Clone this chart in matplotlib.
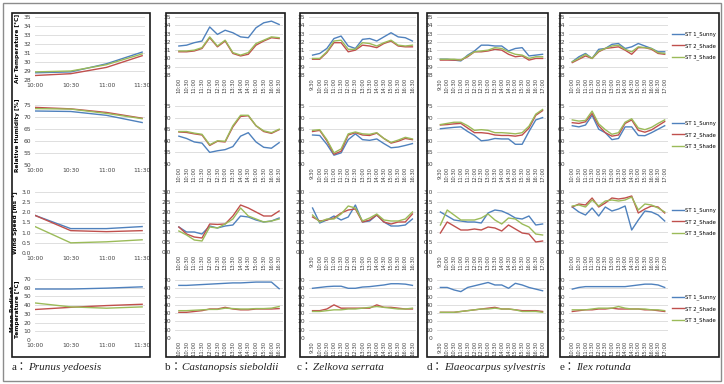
import matplotlib
matplotlib.use('Agg')
import matplotlib.pyplot as plt
from matplotlib.patches import Rectangle

# time axes for each site
times_a = ['10:00', '10:30', '11:00', '11:30']
times_b = ['10:00', '10:30', '11:00', '11:30', '12:00', '12:30', '13:00', '13:30',
           '14:00', '14:30', '15:00', '15:30', '16:00', '16:30']
times_c = ['9:30', '10:00', '10:30', '11:00', '11:30', '12:00', '12:30', '13:00',
           '13:30', '14:00', '14:30', '15:00', '15:30', '16:00', '16:30']
times_d = ['9:30', '10:00', '10:30', '11:00', '11:30', '12:00', '12:30', '13:00',
           '13:30', '14:00', '14:30', '15:00', '15:30', '16:00', '16:30', '17:00']
times_e = ['10:00', '10:30', '11:00', '11:30', '12:00', '12:30', '13:00', '13:30',
           '14:00', '14:30', '15:00', '15:30', '16:00', '16:30', '17:00']

series_names = ['ST 1_Sunny', 'ST 2_Shade', 'ST 3_Shade']
captions = [('a：', 'Prunus yedoesis'), ('b：', 'Castanopsis sieboldii'),
            ('c：', 'Zelkova serrata'), ('d：', 'Elaeocarpus sylvestris'),
            ('e：', 'Ilex rotunda')]

# [ST1 sunny, ST2 shade, ST3 shade] per site and variable
air_a = [[28.8, 28.9, 29.8, 31.1],
         [28.5, 28.7, 29.4, 30.7],
         [28.9, 29.0, 29.7, 30.9]]
rh_a = [[72.5, 72.3, 70.7, 67.7],
        [74.0, 73.4, 71.9, 69.5],
        [73.5, 73.3, 71.5, 69.3]]
ws_a = [[1.85, 1.2, 1.2, 1.3],
        [1.85, 1.1, 1.05, 1.1],
        [1.3, 0.5, 0.55, 0.65]]
mrt_a = [[58.5, 58.5, 59.5, 61.0],
         [35.0, 37.5, 39.5, 41.0],
         [42.5, 38.0, 36.5, 38.0]]

air_b = [[31.5, 31.6, 31.9, 32.1, 33.8, 32.9, 33.4, 33.1, 32.6, 32.5, 33.7, 34.3, 34.5, 34.1],
         [30.8, 30.8, 30.9, 31.2, 32.5, 31.4, 32.1, 30.6, 30.3, 30.5, 31.6, 32.1, 32.5, 32.4],
         [30.9, 30.9, 31.0, 31.3, 32.6, 31.5, 32.2, 30.7, 30.4, 30.7, 31.8, 32.2, 32.6, 32.5]]
rh_b = [[62.0, 61.0, 59.5, 59.0, 55.0, 55.7, 56.2, 57.5, 62.0, 63.5, 59.5, 57.2, 56.8, 59.2],
        [63.8, 63.6, 63.0, 62.5, 58.0, 59.8, 59.5, 66.0, 70.5, 70.8, 66.5, 64.0, 63.2, 64.8],
        [64.0, 64.0, 63.3, 62.8, 58.3, 60.0, 59.8, 66.5, 71.0, 71.0, 66.5, 64.3, 63.5, 65.0]]
ws_b = [[1.25, 1.0, 1.0, 0.9, 1.3, 1.2, 1.3, 1.35, 1.8, 1.75, 1.6, 1.5, 1.55, 1.7],
        [1.25, 0.9, 0.75, 0.7, 1.4, 1.38, 1.4, 1.8, 2.35, 2.2, 2.0, 1.8, 1.8, 2.05],
        [1.05, 0.85, 0.6, 0.55, 1.25, 1.2, 1.4, 1.65, 2.2, 1.8, 1.65, 1.5, 1.55, 1.65]]
mrt_b = [[63.5, 63.5, 64.0, 64.5, 65.0, 65.5, 66.0, 66.5, 66.5, 67.0, 67.5, 67.5, 67.5, 59.5],
         [31.0, 31.0, 32.0, 33.0, 35.0, 35.0, 37.0, 35.0, 34.0, 34.0, 35.0, 35.0, 35.0, 35.5],
         [33.0, 33.0, 33.5, 34.0, 34.5, 34.5, 36.0, 35.5, 35.0, 35.0, 35.5, 35.5, 36.0, 38.0]]

air_c = [[30.4, 30.6, 31.2, 32.4, 32.7, 31.5, 31.2, 32.3, 32.4, 32.1, 32.6, 33.1, 32.6, 32.5, 32.1],
         [29.9, 29.9, 30.7, 31.9, 31.9, 30.8, 31.0, 31.6, 31.5, 31.3, 31.8, 32.1, 31.5, 31.4, 31.4],
         [30.0, 30.0, 30.8, 32.1, 32.2, 31.1, 31.1, 31.9, 31.8, 31.5, 31.9, 32.2, 31.6, 31.5, 31.6]]
rh_c = [[62.5, 62.3, 58.5, 53.8, 54.8, 60.5, 63.0, 60.5, 60.2, 60.8, 58.8, 57.0, 57.3, 58.0, 58.8],
        [64.0, 64.5, 60.0, 54.2, 55.5, 62.5, 63.5, 62.5, 62.3, 63.3, 61.0, 59.0, 59.8, 61.0, 60.5],
        [64.5, 64.8, 60.5, 54.8, 56.5, 63.0, 63.8, 63.0, 62.8, 63.5, 61.0, 59.3, 60.3, 61.5, 60.8]]
ws_c = [[2.2, 1.45, 1.6, 1.8, 1.6, 1.75, 2.35, 1.5, 1.55, 1.85, 1.5, 1.3, 1.3, 1.35, 1.65],
        [1.75, 1.55, 1.6, 1.7, 1.95, 2.1, 2.15, 1.5, 1.6, 1.85, 1.5, 1.4, 1.5, 1.5, 1.9],
        [1.85, 1.5, 1.65, 1.65, 1.9, 2.3, 2.2, 1.55, 1.7, 1.9, 1.6, 1.55, 1.55, 1.65, 2.0]]
mrt_c = [[60.0, 61.0, 62.0, 62.5, 62.5, 60.0, 60.0, 61.5, 62.0, 63.0, 64.0, 65.5, 65.5, 65.0, 63.5],
         [33.0, 33.0, 35.0, 40.0, 36.0, 36.0, 36.0, 36.0, 36.0, 40.0, 37.0, 37.0, 36.0, 35.0, 35.0],
         [32.0, 32.0, 33.0, 34.0, 34.0, 35.0, 35.0, 36.0, 37.0, 38.0, 37.0, 36.0, 35.0, 35.0, 36.0]]

air_d = [[29.9, 29.9, 29.8, 29.7, 30.4, 30.9, 31.6, 31.6, 31.5, 31.5, 30.9, 31.2, 31.3, 30.3, 30.4, 30.5],
         [29.8, 29.8, 29.8, 29.8, 30.2, 30.8, 30.8, 30.9, 31.1, 31.0, 30.5, 30.2, 30.3, 29.8, 30.0, 30.0],
         [29.9, 29.9, 29.9, 29.8, 30.3, 30.8, 30.9, 31.0, 31.3, 31.2, 30.8, 30.5, 30.4, 30.0, 30.2, 30.2]]
rh_d = [[65.2, 65.5, 65.8, 66.0, 64.0, 62.3, 60.0, 60.3, 61.0, 60.8, 60.8, 58.5, 58.5, 64.0, 69.0, 70.0],
        [66.8, 67.0, 67.3, 67.5, 65.5, 63.5, 63.5, 63.2, 62.5, 62.3, 62.3, 62.0, 62.5, 65.5, 71.0, 73.0],
        [67.0, 67.5, 68.0, 68.0, 66.5, 64.5, 64.8, 64.5, 63.5, 63.5, 63.3, 63.0, 63.5, 66.3, 71.5, 73.5]]
ws_d = [[2.0, 1.8, 1.6, 1.55, 1.5, 1.5, 1.45, 1.95, 2.1, 2.05, 1.9, 1.7, 1.65, 1.8, 1.35, 1.4],
        [0.95, 1.5, 1.3, 1.1, 1.1, 1.15, 1.1, 1.25, 1.2, 1.05, 1.35, 1.15, 0.95, 0.9, 0.5, 0.55],
        [1.35, 2.1, 1.85, 1.6, 1.6, 1.6, 1.7, 1.9, 1.6, 1.4, 1.7, 1.65, 1.4, 1.25, 0.9, 0.85]]
mrt_d = [[61, 61, 58, 56, 61, 63, 65, 67, 64, 64, 60, 66, 64, 61, 59, 57],
         [31, 31, 31, 32, 33, 34, 35, 36, 37, 35, 35, 34, 33, 33, 33, 32],
         [31, 31, 31, 32, 33, 34, 35, 35, 36, 35, 35, 34, 32, 32, 32, 31]]

air_e = [[29.6, 30.2, 30.6, 30.0, 31.1, 31.2, 31.7, 31.8, 31.2, 31.4, 31.8, 31.5, 31.2, 30.8, 30.8],
         [29.5, 29.9, 30.3, 30.0, 30.8, 31.2, 31.3, 31.4, 31.0, 30.5, 31.3, 31.3, 31.1, 30.6, 30.5],
         [29.6, 30.0, 30.5, 30.0, 30.9, 31.2, 31.5, 31.6, 31.1, 30.8, 31.4, 31.3, 31.2, 30.7, 30.6]]
rh_e = [[66.5, 66.0, 66.8, 71.0, 65.0, 63.5, 60.5, 61.0, 66.0, 66.0, 62.3, 62.2, 63.5, 65.0, 66.5],
        [67.8, 67.5, 68.2, 71.8, 66.5, 63.5, 62.0, 62.5, 67.5, 69.0, 64.5, 63.7, 64.7, 66.5, 68.3],
        [69.0, 68.5, 68.8, 72.8, 67.3, 64.8, 62.8, 63.5, 68.0, 69.5, 65.5, 64.8, 65.8, 67.5, 69.0]]
ws_e = [[2.25, 2.0, 1.85, 2.2, 1.8, 2.25, 2.05, 2.15, 2.3, 1.1, 1.6, 2.05, 2.0, 1.85, 1.55],
        [2.25, 2.4, 2.35, 2.7, 2.25, 2.45, 2.7, 2.65, 2.7, 2.8, 1.95, 2.15, 2.3, 2.25, 1.95],
        [2.3, 2.35, 2.25, 2.6, 2.3, 2.55, 2.6, 2.55, 2.6, 2.75, 2.1, 2.4, 2.35, 2.2, 2.0]]
mrt_e = [[59, 61, 62, 62, 62, 62, 62, 62, 62, 63, 64, 65, 65, 64, 61],
         [32, 33, 34, 34, 35, 35, 36, 35, 35, 35, 35, 34, 34, 33, 32],
         [34, 34, 34, 35, 36, 36, 36, 38, 36, 35, 35, 35, 34, 34, 33]]

y_labels = ['Air Temperature [°C]', 'Relative Humidity [%]', 'Wind Speed [ms⁻¹]',
            'Mean Radiant\nTemperature [°C]']
y_ticks = [[28, 29, 30, 31, 32, 33, 34, 35],
           [50, 55, 60, 65, 70, 75],
           [0.0, 0.5, 1.0, 1.5, 2.0, 2.5, 3.0],
           [0, 10, 20, 30, 40, 50, 60, 70]]
y_fmt = ['{:.0f}', '{:.0f}', '{:.1f}', '{:.0f}']

sites = [(times_a, [air_a, rh_a, ws_a, mrt_a]),
         (times_b, [air_b, rh_b, ws_b, mrt_b]),
         (times_c, [air_c, rh_c, ws_c, mrt_c]),
         (times_d, [air_d, rh_d, ws_d, mrt_d]),
         (times_e, [air_e, rh_e, ws_e, mrt_e])]

colors = ['#4F81BD', '#C0504D', '#9BBB59']

W, H = 724, 384
fig = plt.figure(figsize=(W / 100, H / 100), dpi=100)


def px_axes(x0, x1, yt, yb):
    return fig.add_axes([x0 / W, 1 - yb / H, (x1 - x0) / W, (yb - yt) / H])


def px_rect(x0, y0, x1, y1, color, lw):
    fig.patches.append(Rectangle((x0 / W, 1 - y1 / H), (x1 - x0) / W, (y1 - y0) / H,
                                 transform=fig.transFigure, fill=False,
                                 edgecolor=color, lw=lw))


# outer frame and one box per site
px_rect(3, 3, 721, 381, '#8C8C8C', 1.0)
boxes = [(12, 150), (166, 285), (300, 418), (427, 548), (560, 719)]
for bx0, bx1 in boxes:
    px_rect(bx0, 13, bx1, 357, '#1A1A1A', 1.2)

col_x = [(35, 145), (175, 283), (309, 416), (437, 546), (569, 668)]
rows_a = [(17, 80), (105, 165), (192, 253), (279, 340)]
rows_other = [(17, 75), (106, 164), (192, 252), (280, 338)]

for ci, (times, variables) in enumerate(sites):
    rows = rows_a if ci == 0 else rows_other
    n = len(times)
    for ri, data in enumerate(variables):
        yt, yb = rows[ri]
        ax = px_axes(col_x[ci][0], col_x[ci][1], yt, yb)
        lines = []
        for k, series in enumerate(data):
            ln, = ax.plot(range(n), series, color=colors[k], lw=1.0)
            lines.append(ln)
        ticks = y_ticks[ri]
        ax.set_ylim(ticks[0], ticks[-1])
        ax.set_yticks(ticks)
        ax.set_yticklabels([y_fmt[ri].format(t) for t in ticks])
        ax.set_xticks(range(n))
        if ci == 0:
            ax.set_xlim(0, n - 1 + 0.08)
            ax.set_xticklabels(times, fontsize=4.3, color='#404040')
        else:
            ax.set_xlim(-0.5, n - 0.5)
            ax.set_xticklabels(times, fontsize=3.8, color='#404040', rotation=90)
        ax.tick_params(length=0, pad=2)
        ax.tick_params(axis='y', labelsize=4.3, labelcolor='#404040', pad=3)
        for sp in ax.spines.values():
            sp.set_visible(False)
        ax.yaxis.grid(True, color='#D9D9D9', lw=0.6)
        ax.set_axisbelow(True)
        ax.set_facecolor('none')
        if ci == 0:
            ax.set_ylabel(y_labels[ri], fontsize=4.2, fontweight='bold', labelpad=2,
                          linespacing=1.1)
        if ci == 4:
            fig.legend(lines, series_names, loc='center left',
                       bbox_to_anchor=(672 / W, 1 - (yt + yb) / 2 / H),
                       frameon=False, fontsize=3.8, handlelength=2.2,
                       handletextpad=0.3, labelspacing=1.1, borderpad=0,
                       borderaxespad=0)

# captions under the boxes
renderer = fig.canvas.get_renderer()
cap_x = [12, 165, 297, 427, 560]
for (tag, species), x0 in zip(captions, cap_x):
    t = fig.text(x0 / W, 1 - 368 / H, tag, fontsize=8, va='center', ha='left',
                 family=['Liberation Serif', 'Noto Sans CJK KR'], color='#222222')
    bb = t.get_window_extent(renderer)
    fig.text(bb.x1 / W, 1 - 368 / H, species, fontsize=8, va='center',
             ha='left', family='Liberation Serif', style='italic', color='#222222')

fig.savefig('out.png', dpi=100)
